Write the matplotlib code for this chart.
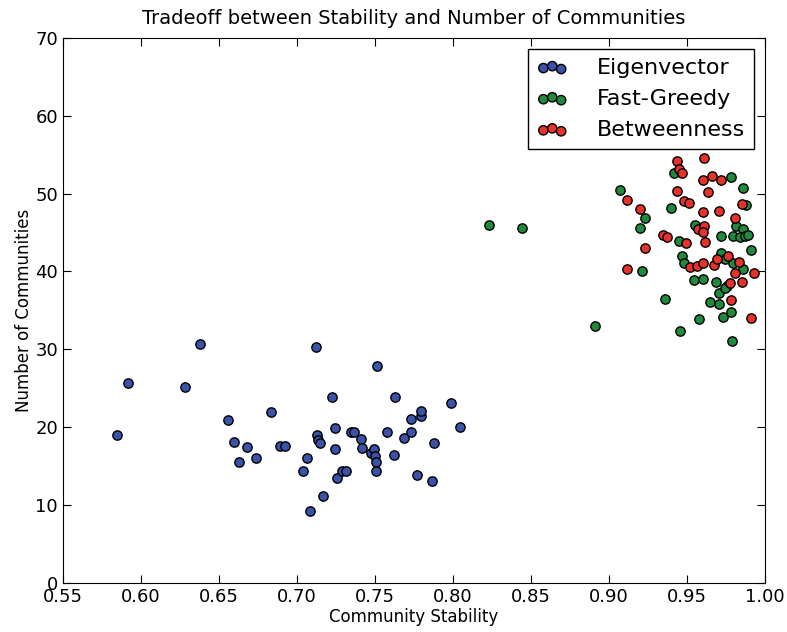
import matplotlib
matplotlib.use("Agg")
import matplotlib.pyplot as plt

# Eigenvector (stability, number of communities)
eig_x = [0.5844, 0.5919, 0.6378, 0.6284, 0.6560, 0.6596, 0.6678, 0.6630, 0.6737, 0.6831,
         0.6891, 0.6923, 0.7120, 0.7037, 0.7062, 0.7083, 0.7126, 0.7137, 0.7147, 0.7169,
         0.7222, 0.7244, 0.7244, 0.7254, 0.7286, 0.7314, 0.7344, 0.7365, 0.7410, 0.7415,
         0.7515, 0.7473, 0.7494, 0.7500, 0.7507, 0.7505, 0.7575, 0.7630, 0.7624, 0.7686,
         0.7731, 0.7729, 0.7793, 0.7795, 0.7767, 0.7867, 0.7878, 0.7987, 0.8045]
eig_y = [19.0, 25.6, 30.7, 25.2, 20.9, 18.1, 17.5, 15.5, 16.0, 21.9,
         17.6, 17.6, 30.3, 14.3, 16.0, 9.2, 19.0, 18.4, 17.9, 11.2,
         23.9, 19.9, 17.2, 13.4, 14.4, 14.4, 19.3, 19.4, 18.5, 17.3,
         27.9, 16.7, 17.2, 16.3, 15.5, 14.4, 19.3, 23.8, 16.4, 18.6,
         19.4, 21.0, 21.4, 22.0, 13.8, 13.1, 18.0, 23.1, 20.0]

# Fast-Greedy
fg_x = [0.823, 0.844, 0.907, 0.940, 0.9229, 0.9201, 0.9417, 0.9782, 0.9861, 0.9876,
        0.9549, 0.9720, 0.9814, 0.9861, 0.9797, 0.9840, 0.9874, 0.9893, 0.9449, 0.9908,
        0.9470, 0.9483, 0.9718, 0.9742, 0.9797, 0.9857, 0.9210, 0.9545, 0.9605, 0.9686,
        0.9755, 0.9707, 0.9744, 0.9357, 0.9647, 0.9703, 0.9782, 0.9733, 0.9579, 0.8909,
        0.9455, 0.9788]
fg_y = [46.0, 45.6, 50.4, 48.2, 46.8, 45.6, 52.7, 52.1, 50.7, 48.5,
        46.0, 44.6, 45.8, 45.4, 44.6, 44.4, 44.5, 44.7, 43.9, 42.7,
        42.0, 41.1, 42.4, 41.6, 41.1, 40.3, 40.1, 38.9, 39.0, 38.6,
        38.1, 37.2, 37.9, 36.4, 36.1, 35.8, 34.8, 34.1, 33.9, 33.0,
        32.3, 31.0]

# Betweenness
bt_x = [0.9436, 0.9610, 0.9449, 0.9466, 0.9600, 0.9662, 0.9716, 0.9434, 0.9118, 0.9481,
        0.9515, 0.9637, 0.9199, 0.9605, 0.9707, 0.9850, 0.9808, 0.9348, 0.9374, 0.9572,
        0.9609, 0.9605, 0.9615, 0.9492, 0.9231, 0.9114, 0.9522, 0.9564, 0.9602, 0.9675,
        0.9691, 0.9766, 0.9831, 0.9808, 0.9850, 0.9931, 0.9776, 0.9780, 0.9908]
bt_y = [54.2, 54.6, 53.1, 52.7, 51.8, 52.2, 51.8, 50.3, 49.2, 49.1,
        48.8, 50.2, 48.0, 47.6, 47.8, 48.6, 46.8, 44.7, 44.4, 45.4,
        45.8, 45.0, 43.8, 43.6, 43.0, 40.3, 40.6, 40.7, 41.1, 40.8,
        41.6, 42.0, 41.2, 39.8, 38.7, 39.8, 38.5, 36.3, 34.0]

plt.rcParams['font.family'] = 'DejaVu Sans'
fig = plt.figure(figsize=(7.87, 6.32), dpi=100)
ax = fig.add_axes([0.080, 0.078, 0.892, 0.862])

ax.scatter(eig_x, eig_y, s=45, c='#3a52a8', edgecolors='black', linewidths=1.0, label='Eigenvector', zorder=3)
ax.scatter(fg_x, fg_y, s=45, c='#1f8a3c', edgecolors='black', linewidths=1.0, label='Fast-Greedy', zorder=3)
ax.scatter(bt_x, bt_y, s=45, c='#e6322a', edgecolors='black', linewidths=1.0, label='Betweenness', zorder=3)

ax.set_xlim(0.55, 1.00)
ax.set_ylim(0, 70)
ax.set_xticks([0.55, 0.60, 0.65, 0.70, 0.75, 0.80, 0.85, 0.90, 0.95, 1.00])
ax.set_yticks([0, 10, 20, 30, 40, 50, 60, 70])
ax.tick_params(direction='in', top=True, right=True, length=6, labelsize=13)
ax.set_title("Tradeoff between Stability and Number of Communities", fontsize=14, pad=10)
ax.set_xlabel("Community Stability", fontsize=12, labelpad=2)
ax.set_ylabel("Number of Communities", fontsize=12, labelpad=2)

leg = ax.legend(loc='upper right', scatterpoints=3, scatteryoffsets=[0.375, 0.5, 0.3125],
                fontsize=16, fancybox=False, framealpha=1, edgecolor='black',
                borderaxespad=0.5, handlelength=1.4, handletextpad=1.3,
                borderpad=0.4, labelspacing=0.5)
leg.get_frame().set_linewidth(1.0)

fig.savefig("out.png", dpi=100)
